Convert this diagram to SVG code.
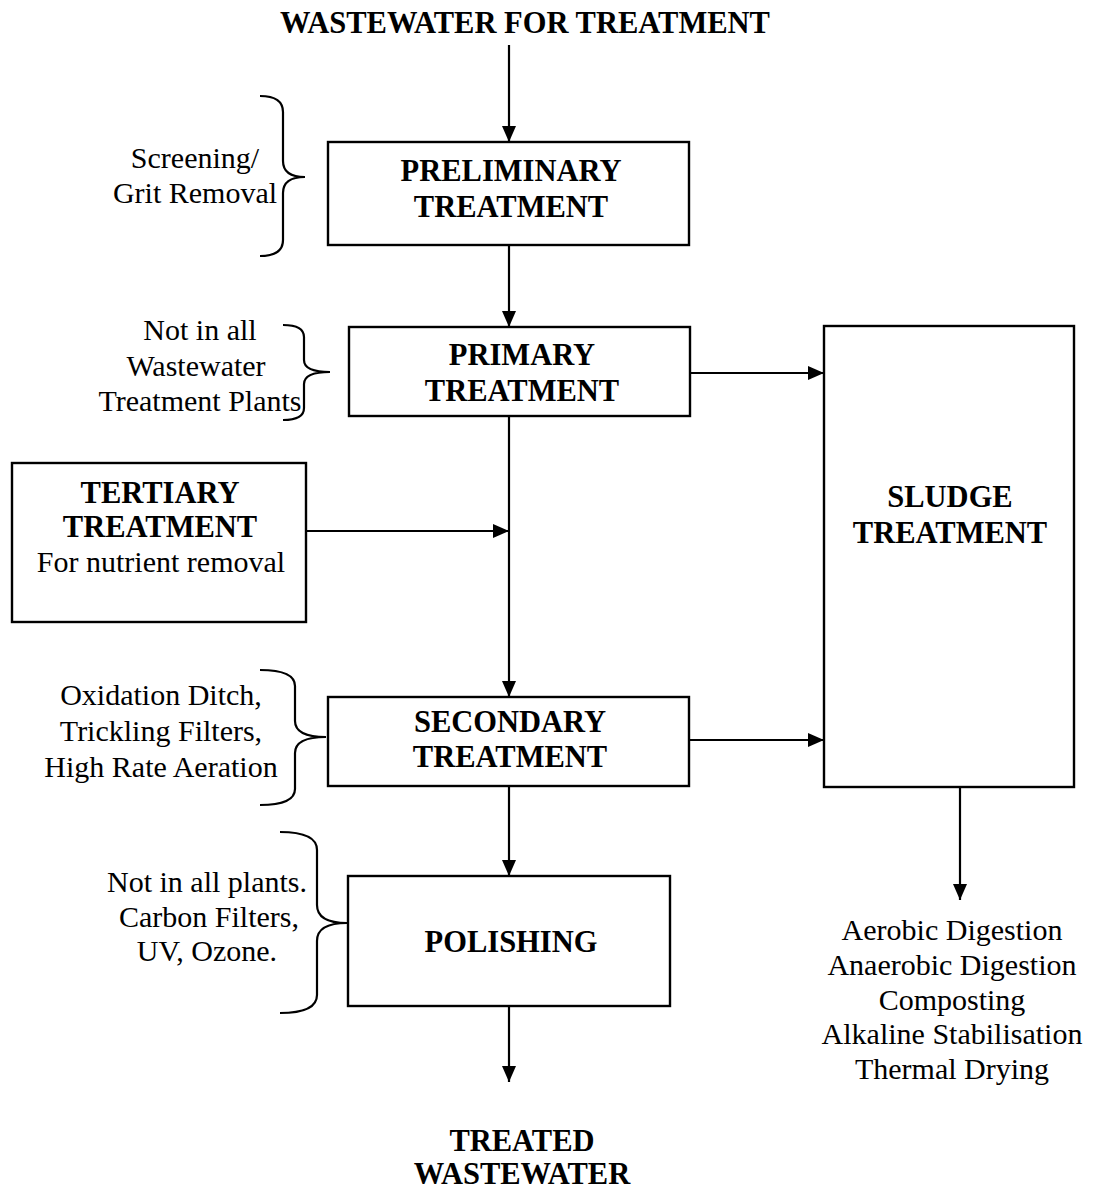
<svg xmlns="http://www.w3.org/2000/svg" width="1100" height="1192" viewBox="0 0 1100 1192">
<defs>
<marker id="ah" viewBox="0 0 16 14" refX="16" refY="7" markerWidth="16" markerHeight="14" markerUnits="userSpaceOnUse" orient="auto">
<path d="M0,0 L16,7 L0,14 Z" fill="#000"/>
</marker>
<style>
.box{fill:#fff;stroke:#000;stroke-width:2.4}
.b{font-family:"Liberation Serif","Times New Roman",serif;font-weight:bold;font-size:30.5px;text-anchor:middle;fill:#000}
.r{font-family:"Liberation Serif","Times New Roman",serif;font-size:30px;text-anchor:middle;fill:#000}
.c{fill:none;stroke:#000;stroke-width:2.2}
.br{fill:none;stroke:#000;stroke-width:2.2}
</style>
</defs>
<rect width="1100" height="1192" fill="#fff"/>
<text class="b" x="525" y="33">WASTEWATER FOR TREATMENT</text>
<g id="connectors">
<line class="c" x1="509" y1="45" x2="509" y2="142" marker-end="url(#ah)"/>
<line class="c" x1="509" y1="245" x2="509" y2="327" marker-end="url(#ah)"/>
<line class="c" x1="690" y1="373" x2="824" y2="373" marker-end="url(#ah)"/>
<line class="c" x1="509" y1="416" x2="509" y2="697" marker-end="url(#ah)"/>
<line class="c" x1="306" y1="531" x2="509" y2="531" marker-end="url(#ah)"/>
<line class="c" x1="689" y1="740" x2="824" y2="740" marker-end="url(#ah)"/>
<line class="c" x1="509" y1="786" x2="509" y2="876" marker-end="url(#ah)"/>
<line class="c" x1="509" y1="1006" x2="509" y2="1082" marker-end="url(#ah)"/>
<line class="c" x1="960" y1="787" x2="960" y2="900" marker-end="url(#ah)"/>
</g>
<g id="preliminary">
<rect class="box" x="328" y="142" width="361" height="103"/>
<text class="b" x="511" y="181">PRELIMINARY</text>
<text class="b" x="511" y="217">TREATMENT</text>
</g>
<g id="primary">
<rect class="box" x="349" y="327" width="341" height="89"/>
<text class="b" x="522" y="365">PRIMARY</text>
<text class="b" x="522" y="401">TREATMENT</text>
</g>
<g id="sludge">
<rect class="box" x="824" y="326" width="250" height="461"/>
<text class="b" x="950" y="507">SLUDGE</text>
<text class="b" x="950" y="543">TREATMENT</text>
</g>
<g id="tertiary">
<rect class="box" x="12" y="463" width="294" height="159"/>
<text class="b" x="160" y="503">TERTIARY</text>
<text class="b" x="160" y="537">TREATMENT</text>
<text class="r" x="161" y="572">For nutrient removal</text>
</g>
<g id="secondary">
<rect class="box" x="328" y="697" width="361" height="89"/>
<text class="b" x="510" y="732">SECONDARY</text>
<text class="b" x="510" y="767">TREATMENT</text>
</g>
<g id="polishing">
<rect class="box" x="348" y="876" width="322" height="130"/>
<text class="b" x="511" y="952">POLISHING</text>
</g>
<g id="treated">
<text class="b" x="522" y="1151">TREATED</text>
<text class="b" x="522" y="1184">WASTEWATER</text>
</g>
<g id="sludge-options">
<text class="r" x="952" y="940">Aerobic Digestion</text>
<text class="r" x="952" y="975">Anaerobic Digestion</text>
<text class="r" x="952" y="1010">Composting</text>
<text class="r" x="952" y="1044">Alkaline Stabilisation</text>
<text class="r" x="952" y="1079">Thermal Drying</text>
</g>
<g id="note-preliminary">
<path class="br" d="M260,96 Q283,96 283,112 L283,161 Q283,177 305,177 Q283,177 283,193 L283,240 Q283,256 260,256"/>
<text class="r" x="195" y="168">Screening/</text>
<text class="r" x="195" y="203">Grit Removal</text>
</g>
<g id="note-primary">
<path class="br" d="M283,325 Q304,325 304,337 L304,360 Q304,372 330,372 Q304,372 304,384 L304,408 Q304,420 283,420"/>
<text class="r" x="200" y="340">Not in all</text>
<text class="r" x="196" y="376">Wastewater</text>
<text class="r" x="200" y="411">Treatment Plants</text>
</g>
<g id="note-secondary">
<path class="br" d="M260,670 Q295,670 295,686 L295,721 Q295,737 326,737 Q295,737 295,753 L295,789 Q295,805 260,805"/>
<text class="r" x="161" y="705">Oxidation Ditch,</text>
<text class="r" x="161" y="741">Trickling Filters,</text>
<text class="r" x="161" y="777">High Rate Aeration</text>
</g>
<g id="note-polishing">
<path class="br" d="M280,832 Q317,832 317,850 L317,905 Q317,923 347,923 Q317,923 317,941 L317,995 Q317,1013 280,1013"/>
<text class="r" x="207" y="892">Not in all plants.</text>
<text class="r" x="209" y="927">Carbon Filters,</text>
<text class="r" x="207" y="961">UV, Ozone.</text>
</g>
</svg>
